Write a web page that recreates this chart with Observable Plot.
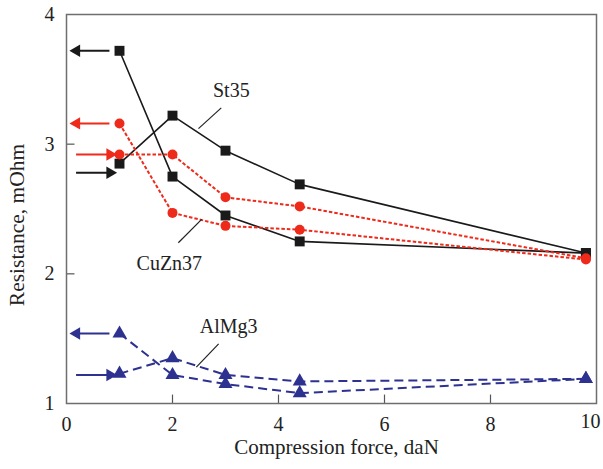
<!DOCTYPE html>
<html>
<head>
<meta charset="utf-8">
<script src="https://cdn.jsdelivr.net/npm/d3@7"></script>
<script src="https://cdn.jsdelivr.net/npm/@observablehq/plot@0.6"></script>
<style>
  html, body { margin: 0; padding: 0; background: #fff; }
  #chart { width: 603px; height: 469px; }
</style>
</head>
<body>
<div id="chart"></div>
<script>
// Data
const force = [1, 2, 3, 4.4, 9.8];
const seriesNames = ["St35", "CuZn37", "AlMg3"];
const st35Unload = [3.72, 2.75, 2.45, 2.25, 2.16];
const st35Load = [2.85, 3.22, 2.95, 2.69, 2.16];
const cuzn37Unload = [3.16, 2.47, 2.37, 2.34, 2.11];
const cuzn37Load = [2.92, 2.92, 2.59, 2.52, 2.12];
const almg3Unload = [1.54, 1.22, 1.15, 1.08, 1.19];
const almg3Load = [1.23, 1.35, 1.22, 1.17, 1.19];

// Arrow indicators at the left (direction of path)
const arrowSeries = ["St35", "St35", "CuZn37", "CuZn37", "AlMg3", "AlMg3"];
const arrowDir = ["left", "right", "left", "right", "left", "right"];
const arrowY = [3.72, 2.78, 3.16, 2.92, 1.54, 1.22];

const xTicks = [0, 2, 4, 6, 8, 10];
const yTicks = [1, 2, 3, 4];
const xTitle = "Compression force, daN";
const yTitle = "Resistance, mOhm";

// Series labels with leader lines
const labelText = ["St35", "CuZn37", "AlMg3"];
const labelX = [3.11, 1.94, 3.06];
const labelY = [3.41, 2.08, 1.59];
const leaderX1 = [2.92, 2.11, 2.87];
const leaderY1 = [3.28, 2.24, 1.46];
const leaderX2 = [2.49, 2.55, 2.45];
const leaderY2 = [3.12, 2.42, 1.28];

// Styles
const colors = {St35: "#1a1a1a", CuZn37: "#ee2a1b", AlMg3: "#2d3190"};
const dashes = {St35: null, CuZn37: "3.5,2", AlMg3: "9,5"};
const symbols = {St35: "square", CuZn37: "circle", AlMg3: "triangle"};
const radii = {St35: 5.6, CuZn37: 5, AlMg3: 5.2};

const curves = [
  ["St35", "unload", st35Unload], ["St35", "load", st35Load],
  ["CuZn37", "unload", cuzn37Unload], ["CuZn37", "load", cuzn37Load],
  ["AlMg3", "unload", almg3Unload], ["AlMg3", "load", almg3Load]
];
const rows = curves.flatMap(([s, p, ys]) => force.map((x, i) => ({series: s, path: p, x, y: ys[i]})));
const arrows = arrowSeries.map((s, i) => ({
  series: s, dir: arrowDir[i], y: arrowY[i],
  tail: arrowDir[i] === "left" ? 0.82 : 0.19,
  tip: arrowDir[i] === "left" ? 0.19 : 0.82
}));
const labels = labelText.map((t, i) => ({t, x: labelX[i], y: labelY[i], x1: leaderX1[i], y1: leaderY1[i], x2: leaderX2[i], y2: leaderY2[i]}));

const FONT = "'Liberation Serif', 'DejaVu Serif', serif";
const marks = [
  Plot.ruleX(xTicks.slice(1, -1), {x: d => d, y1: 1, y2: 1.065, stroke: "#555", strokeWidth: 1.2}),
  Plot.ruleY(yTicks.slice(1, -1), {y: d => d, x1: 0, x2: 0.16, stroke: "#555", strokeWidth: 1.2}),
  Plot.frame({stroke: "#6e6e6e", strokeWidth: 1.5}),
  Plot.axisX(xTicks.slice(0, -1), {tickSize: 0, tickPadding: 13, fontSize: 20, label: null}),
  Plot.text(xTicks.slice(-1), {x: d => d, y: 1, text: d => String(d), frameAnchor: "bottom", dy: 24, dx: 4, textAnchor: "end", fontSize: 20, fill: "#222"}),
  Plot.axisY(yTicks, {tickSize: 0, tickPadding: 12, fontSize: 20, tickFormat: "d", label: null}),
  Plot.text([xTitle], {text: d => d, frameAnchor: "bottom", dy: 50, dx: 5, fontSize: 21, fill: "#222"}),
  Plot.text([yTitle], {text: d => d, frameAnchor: "left", textAnchor: "middle", rotate: -90, dx: -49, dy: 16, fontSize: 21.5, fill: "#222"})
];
for (const s of seriesNames) {
  for (const p of ["unload", "load"]) {
    marks.push(Plot.line(rows.filter(d => d.series === s && d.path === p), {
      x: "x", y: "y", stroke: colors[s], strokeWidth: s === "St35" ? 1.6 : 2,
      strokeDasharray: dashes[s], strokeLinecap: "butt"
    }));
  }
  marks.push(Plot.dot(rows.filter(d => d.series === s), {
    x: "x", y: "y", symbol: () => symbols[s], r: radii[s], fill: colors[s], stroke: "none"
  }));
  const a = arrows.filter(d => d.series === s);
  marks.push(Plot.ruleY(a, {y: "y", x1: "tail", x2: "tip", stroke: colors[s], strokeWidth: 2}));
  marks.push(Plot.dot(a, {x: "tip", y: "y", symbol: () => "triangle", r: 4.6, fill: colors[s], stroke: "none",
    rotate: d => d.dir === "left" ? -90 : 90}));
}
marks.push(Plot.link(labels, {x1: "x1", y1: "y1", x2: "x2", y2: "y2", stroke: "#222", strokeWidth: 1.2}));
marks.push(Plot.text(labels, {x: "x", y: "y", text: "t", fontSize: 20, fill: "#222"}));

const chart = Plot.plot({
  width: 603,
  height: 469,
  marginLeft: 66,
  marginRight: 7,
  marginTop: 14,
  marginBottom: 66,
  x: {domain: [0, 10]},
  y: {domain: [1, 4]},
  style: {fontFamily: FONT, fontSize: "20px", color: "#222", background: "#fff"},
  marks
});
document.getElementById("chart").appendChild(chart);
</script>
</body>
</html>
